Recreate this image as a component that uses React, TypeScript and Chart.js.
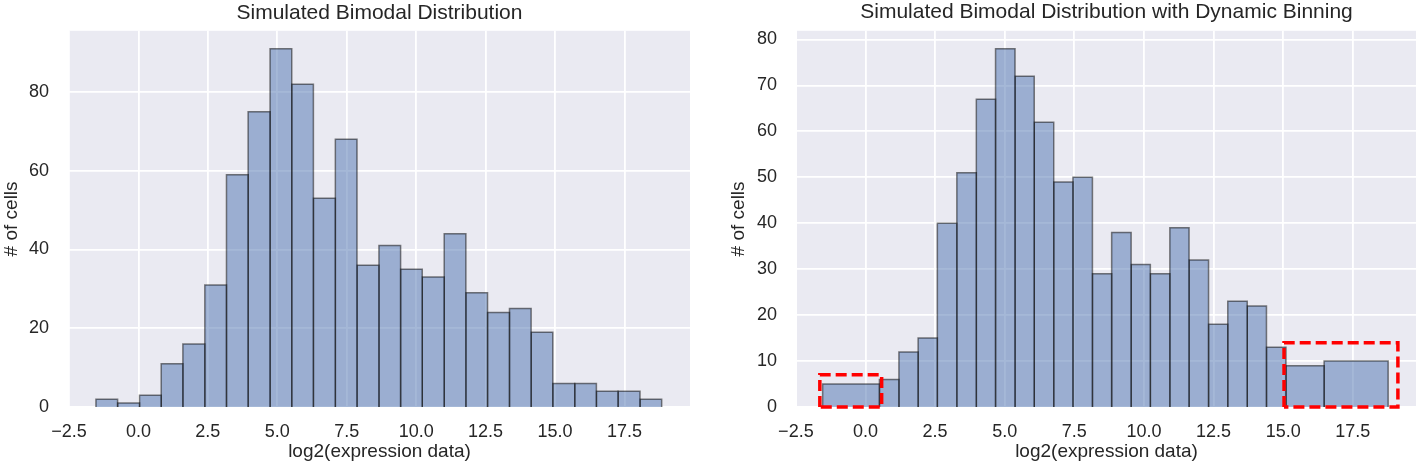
import React, { useEffect, useRef } from "react";
import { Chart, registerables } from "chart.js";

Chart.register(...registerables);

// ---------- data ----------
const xTickValues = [-2.5, 0, 2.5, 5, 7.5, 10, 12.5, 15, 17.5];
const leftYTicks = [0, 20, 40, 60, 80];
const rightYTicks = [0, 10, 20, 30, 40, 50, 60, 70, 80];

const leftBinEdges = [
  -1.53, -0.75, 0.04, 0.82, 1.6, 2.39, 3.17, 3.95, 4.74, 5.52, 6.3, 7.09, 7.87,
  8.66, 9.44, 10.22, 11.01, 11.79, 12.57, 13.36, 14.14, 14.92, 15.71, 16.49,
  17.27, 18.06, 18.84,
];
const leftCounts = [
  2, 1, 3, 11, 16, 31, 59, 75, 91, 82, 53, 68, 36, 41, 35, 33, 44, 29, 24, 25,
  19, 6, 6, 4, 4, 2,
];

const rightBinEdges = [
  -1.54, 0.5, 1.2, 1.89, 2.58, 3.28, 3.98, 4.67, 5.37, 6.06, 6.76, 7.45, 8.15,
  8.84, 9.54, 10.23, 10.93, 11.62, 12.32, 13.01, 13.71, 14.4, 15.1, 16.47, 18.77,
];
const rightCounts = [
  5, 6, 12, 15, 40, 51, 67, 78, 72, 62, 49, 50, 29, 38, 31, 29, 39, 32, 18, 23,
  22, 13, 9, 10,
];

// highlighted (dynamically merged) bins on the right panel
const highlightStart = [-1.64, 15.03];
const highlightEnd = [0.58, 19.12];
const highlightTop = [7, 14];

const leftTitle = "Simulated Bimodal Distribution";
const rightTitle = "Simulated Bimodal Distribution with Dynamic Binning";
const xLabel = "log2(expression data)";
const yLabel = "# of cells";

// ---------- style ----------
const FONT = "'Liberation Sans', Arial, Helvetica, sans-serif";
const TEXT = "#262626";
const PLOT_BG = "#EAEAF2";
const BAR_FILL = "rgba(76,114,176,0.5)";
const BAR_EDGE = "rgba(0,0,0,0.5)";

const bgPlugin = {
  id: "plotBg",
  beforeDraw(chart: any) {
    const { ctx, chartArea: a } = chart;
    ctx.save();
    ctx.fillStyle = PLOT_BG;
    ctx.fillRect(a.left, a.top, a.right - a.left, a.bottom - a.top);
    ctx.restore();
  },
};

function barDatasets(edges: number[], counts: number[]) {
  return counts.map((c, i) => ({
    type: "line",
    data: [
      { x: edges[i], y: 0 },
      { x: edges[i], y: c },
      { x: edges[i + 1], y: c },
      { x: edges[i + 1], y: 0 },
    ],
    fill: "origin",
    backgroundColor: BAR_FILL,
    borderColor: BAR_EDGE,
    borderWidth: 1.5,
    pointRadius: 0,
    pointHoverRadius: 0,
    tension: 0,
    borderJoinStyle: "miter",
    order: 1,
  }));
}

function boxDatasets() {
  return highlightStart.map((x0, i) => ({
    type: "line",
    data: [
      { x: x0, y: 0 },
      { x: x0, y: highlightTop[i] },
      { x: highlightEnd[i], y: highlightTop[i] },
      { x: highlightEnd[i], y: 0 },
      { x: x0, y: 0 },
    ],
    fill: false,
    borderColor: "#FF0000",
    borderWidth: 3.5,
    borderDash: [11, 5],
    pointRadius: 0,
    pointHoverRadius: 0,
    tension: 0,
    clip: false,
    order: -1,
  }));
}

const fmtX = (v: number) => (v < 0 ? "\u2212" : "") + Math.abs(v).toFixed(1);

function makeConfig(opts: {
  title: string;
  datasets: any[];
  xMin: number;
  xMax: number;
  yMax: number;
  yTicks: number[];
  yAxisWidth: number;
  yTitlePad: number;
  rightPad: number;
  titleBottomPad: number;
}) {
  return {
    type: "line",
    data: { datasets: opts.datasets },
    options: {
      animation: false,
      responsive: false,
      maintainAspectRatio: false,
      devicePixelRatio: 1,
      events: [],
      layout: { padding: { left: 0, top: 0, bottom: 0, right: opts.rightPad } },
      plugins: {
        legend: { display: false },
        tooltip: { enabled: false },
        title: {
          display: true,
          text: opts.title,
          fullSize: false,
          color: TEXT,
          font: { family: FONT, size: 21, weight: "normal", lineHeight: 1 },
          padding: { top: 0, bottom: opts.titleBottomPad },
        },
      },
      scales: {
        x: {
          type: "linear",
          min: opts.xMin,
          max: opts.xMax,
          afterBuildTicks: (s: any) => {
            s.ticks = xTickValues.map((v) => ({ value: v }));
          },
          afterFit: (s: any) => {
            s.height = 64;
          },
          grid: { color: "#FFFFFF", lineWidth: 1.8, drawTicks: false },
          border: { display: false },
          ticks: {
            padding: 14,
            color: TEXT,
            autoSkip: false,
            maxRotation: 0,
            font: { family: FONT, size: 18 },
            callback: (v: number) => fmtX(v),
          },
          title: {
            display: true,
            text: xLabel,
            color: TEXT,
            font: { family: FONT, size: 19, lineHeight: 1 },
            padding: { top: 0, bottom: 10 },
          },
        },
        y: {
          type: "linear",
          min: 0,
          max: opts.yMax,
          afterBuildTicks: (s: any) => {
            s.ticks = opts.yTicks.map((v) => ({ value: v }));
          },
          afterFit: (s: any) => {
            s.width = opts.yAxisWidth;
          },
          grid: { color: "#FFFFFF", lineWidth: 1.8, drawTicks: false },
          border: { display: false },
          ticks: {
            padding: 20,
            color: TEXT,
            font: { family: FONT, size: 18 },
            callback: (v: number) => String(v),
          },
          title: {
            display: true,
            text: yLabel,
            color: TEXT,
            font: { family: FONT, size: 19, lineHeight: 1 },
            padding: { top: opts.yTitlePad, bottom: 0 },
          },
        },
      },
    },
    plugins: [bgPlugin],
  };
}

export default function App() {
  const leftRef = useRef<HTMLCanvasElement | null>(null);
  const rightRef = useRef<HTMLCanvasElement | null>(null);

  useEffect(() => {
    const charts: Chart[] = [];
    if (leftRef.current) {
      charts.push(
        new Chart(
          leftRef.current,
          makeConfig({
            title: leftTitle,
            datasets: barDatasets(leftBinEdges, leftCounts),
            xMin: -2.5,
            xMax: 19.86,
            yMax: 95.55,
            yTicks: leftYTicks,
            yAxisWidth: 69,
            yTitlePad: 2.5,
            rightPad: 10,
            titleBottomPad: 7,
          }) as any
        )
      );
    }
    if (rightRef.current) {
      charts.push(
        new Chart(
          rightRef.current,
          makeConfig({
            title: rightTitle,
            datasets: [...boxDatasets(), ...barDatasets(rightBinEdges, rightCounts)],
            xMin: -2.46,
            xMax: 19.77,
            yMax: 81.9,
            yTicks: rightYTicks,
            yAxisWidth: 97,
            yTitlePad: 29.5,
            rightPad: 0,
            titleBottomPad: 8,
          }) as any
        )
      );
    }
    return () => charts.forEach((c) => c.destroy());
  }, []);

  return (
    <div
      style={{
        position: "absolute",
        left: 0,
        top: 0,
        width: 1416,
        height: 471,
        background: "#FFFFFF",
        overflow: "hidden",
      }}
    >
      <canvas
        ref={leftRef}
        width={700}
        height={471}
        style={{ position: "absolute", left: 0, top: 0, width: 700, height: 471 }}
      />
      <canvas
        ref={rightRef}
        width={716}
        height={471}
        style={{ position: "absolute", left: 700, top: 0, width: 716, height: 471 }}
      />
    </div>
  );
}
